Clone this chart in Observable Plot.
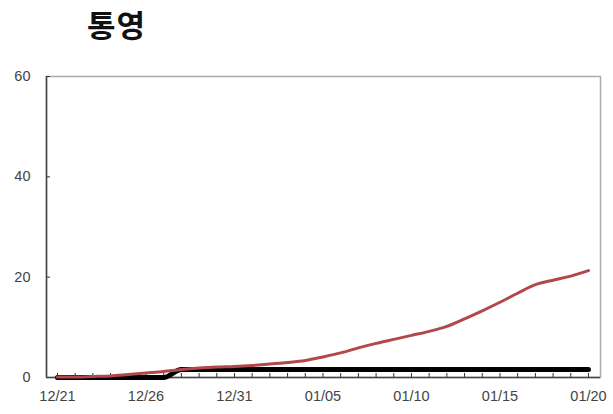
<!DOCTYPE html>
<html>
<head>
<meta charset="utf-8">
<script src="https://cdn.jsdelivr.net/npm/d3@7"></script>
<script src="https://cdn.jsdelivr.net/npm/@observablehq/plot@0.6"></script>
<style>
  body { margin: 0; background: #fff; }
  #wrap { position: relative; width: 613px; height: 414px; }
  #title { position: absolute; left: 87px; top: 1px; font-family: "Noto Sans CJK KR", sans-serif; font-weight: 700; font-size: 31px; color: #111; letter-spacing: 1px; }
</style>
</head>
<body>
<div id="wrap"><div id="title">통영</div><div id="chart"></div></div>
<script>
const dateLabels = ["12/21","12/22","12/23","12/24","12/25","12/26","12/27","12/28","12/29","12/30","12/31",
  "01/01","01/02","01/03","01/04","01/05","01/06","01/07","01/08","01/09","01/10",
  "01/11","01/12","01/13","01/14","01/15","01/16","01/17","01/18","01/19","01/20"];
const redValues = [0.1,0.1,0.2,0.3,0.6,0.9,1.2,1.6,1.9,2.1,2.2,2.4,2.7,3.0,3.4,4.1,4.9,5.9,6.8,7.6,8.4,9.2,10.2,11.7,13.3,15.0,16.8,18.5,19.4,20.2,21.3];
const blackValues = [0,0,0,0,0,0,0,1.6,1.6,1.6,1.6,1.6,1.6,1.6,1.6,1.6,1.6,1.6,1.6,1.6,1.6,1.6,1.6,1.6,1.6,1.6,1.6,1.6,1.6,1.6,1.6];
const labelTicks = [0,5,10,15,20,25,30];
const yTicks = [0,20,40,60];

const red = redValues.map((v,i)=>({i, v}));
const black = blackValues.map((v,i)=>({i, v}));
const days = dateLabels.map((d,i)=>i);

const chart = Plot.plot({
  width: 613, height: 414,
  marginTop: 76, marginBottom: 37, marginLeft: 46, marginRight: 13,
  style: { fontFamily: "Liberation Sans, sans-serif", fontSize: "14.5px", color: "#444", background: "#fff" },
  x: { type: "linear", domain: [-0.62, 30.68], label: null },
  y: { domain: [0, 60], label: null },
  marks: [
    Plot.frame({ stroke: "#aaa", strokeWidth: 1.5 }),
    Plot.axisX(days, { tickSize: -4, tickFormat: () => "", stroke: "#333", label: null }),
    Plot.axisX(labelTicks, { tickSize: 0, tickPadding: 13, tickFormat: i => dateLabels[i], fill: "#444", label: null }),
    Plot.axisY(yTicks, { tickSize: -4, tickPadding: 20, fill: "#444", stroke: "#333", label: null }),
    Plot.ruleX([-0.62], { stroke: "#444", strokeWidth: 1.5 }),
    Plot.ruleY([0], { stroke: "#444", strokeWidth: 1.5 }),
    Plot.line(black, { x: "i", y: "v", stroke: "#000", strokeWidth: 5, curve: "monotone-x" }),
    Plot.line(red, { x: "i", y: "v", stroke: "#b2474c", strokeWidth: 3, curve: "monotone-x" })
  ]
});
document.getElementById("chart").appendChild(chart);
</script>
</body>
</html>
